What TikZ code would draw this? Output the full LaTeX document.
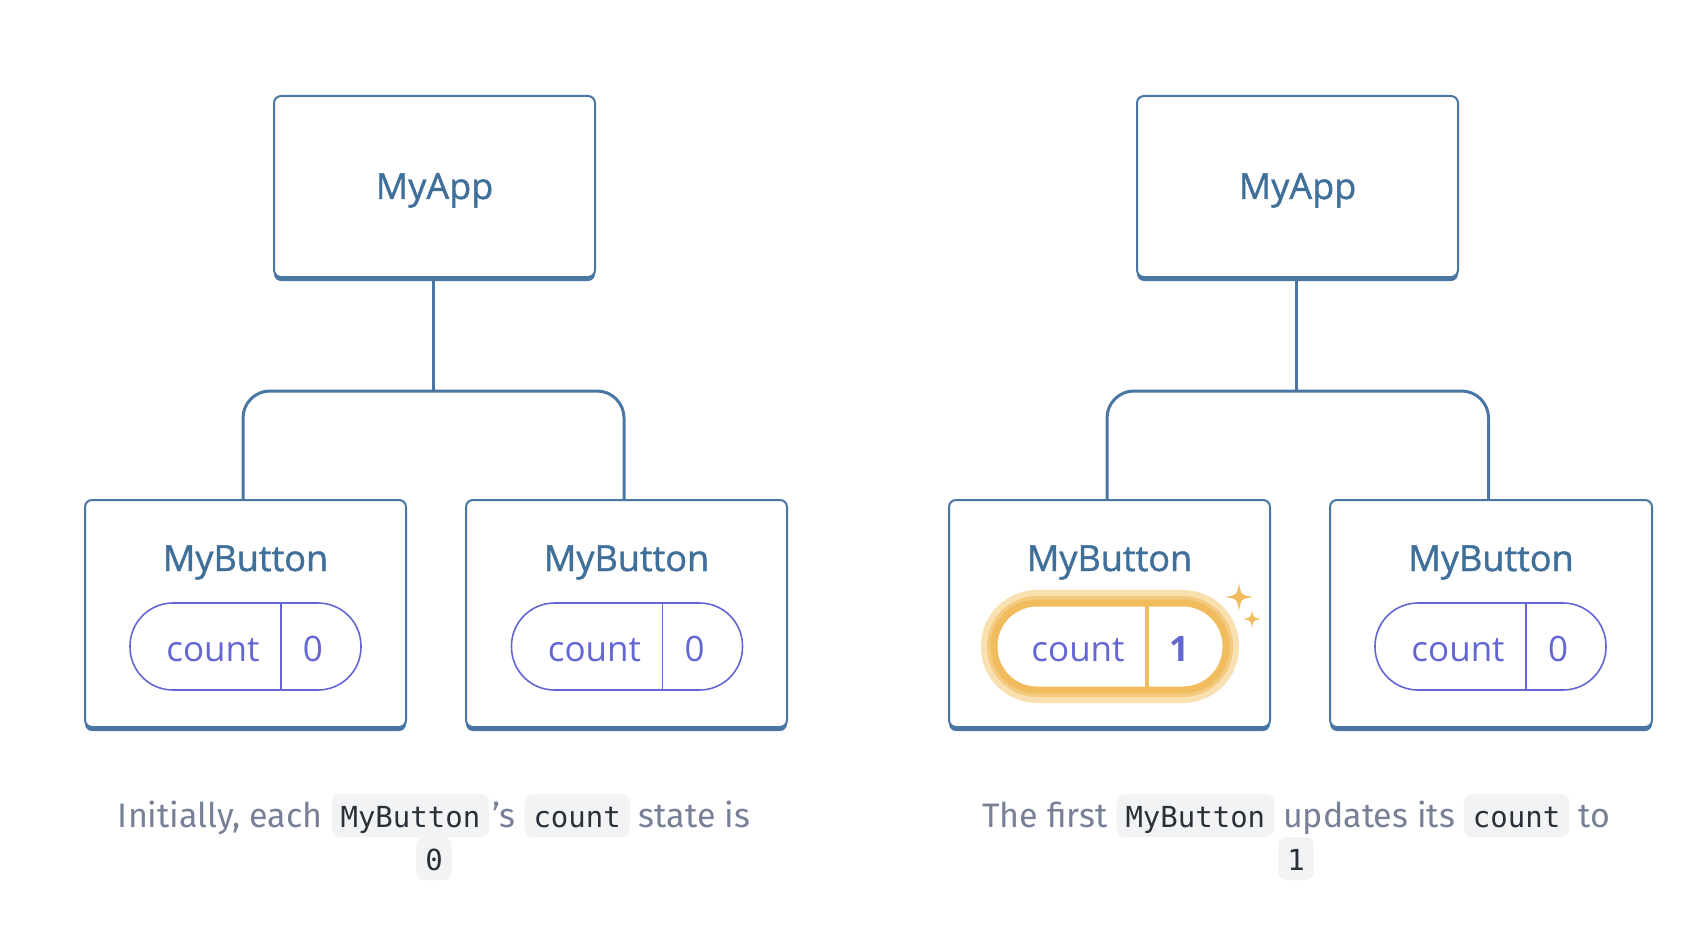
\documentclass[tikz,border=0pt]{standalone}
\usepackage{fontspec}
\setmainfont{Open Sans}
\newfontfamily\titlefont{Open Sans}[FakeBold=1.2]
\newfontfamily\capfont{Fira Sans}
\newfontfamily\codefont{DejaVu Sans Mono}
\usetikzlibrary{shadows}
\definecolor{boxcol}{HTML}{4A76A3}
\definecolor{titlecol}{HTML}{40709A}
\definecolor{purp}{HTML}{6466D4}
\definecolor{capcol}{HTML}{778097}
\definecolor{codebg}{HTML}{F2F3F5}
\definecolor{codetxt}{HTML}{2B2F38}
\definecolor{orng}{HTML}{F1BC5E}
\definecolor{glow}{HTML}{F8E0B0}
\tikzset{
  compbox/.style={draw=boxcol, line width=2pt, fill=white, rounded corners=7pt, inner sep=0pt,
    drop shadow={shadow xshift=0pt, shadow yshift=-4pt, fill=boxcol, opacity=1}},
  title/.style={text=titlecol, font=\titlefont\fontsize{36}{42}\selectfont, inner sep=0pt, anchor=base},
  conn/.style={draw=boxcol, line width=3pt},
  pill/.style={draw=purp, line width=1.6pt, fill=white, rounded corners=43pt,
    minimum width=231pt, minimum height=87pt, inner sep=0pt},
  hpill/.style={draw=orng, line width=7pt, fill=white, rounded corners=43pt,
    minimum width=232pt, minimum height=87pt, inner sep=0pt,
    preaction={draw=glow, line width=26pt}, preaction={draw=orng!60!glow, line width=14pt}},
  divider/.style={draw=purp, line width=1.6pt},
  pilltext/.style={text=purp, font=\fontsize{35}{40}\selectfont, inner sep=0pt, anchor=base},
  codebox/.style={fill=codebg, rounded corners=8pt, inner xsep=9pt, inner ysep=0pt,
    text height=33pt, text depth=10pt, text=codetxt, font=\codefont\fontsize{29}{34}\selectfont},
  caption/.style={text=capcol, font=\capfont\fontsize{34}{40}\selectfont, inner sep=0pt, anchor=base},
  spark/.style={fill=orng}
}
\newcommand{\inlinecode}[1]{\tikz[baseline=(cb.base)]\node[codebox](cb){#1};}
\begin{document}
\begin{tikzpicture}[x=1pt,y=-1pt]
\useasboundingbox (0,0) rectangle (1704,928);
% ---------- left tree ----------
\node[compbox, minimum width=321pt, minimum height=181pt] (app1) at (434.5,186.5) {};
\node[title] (app1t) at (434.5,199) {MyApp};
\node[compbox, minimum width=321pt, minimum height=227pt] (b1) at (245.5,613.5) {};
\node[compbox, minimum width=321pt, minimum height=227pt] (b2) at (626.5,613.5) {};
\node[title] (b1t) at (245.5,571) {MyButton};
\node[title] (b2t) at (626.5,571) {MyButton};
\coordinate (j1) at (433,391);
\draw[conn] ([xshift=-1.5pt]app1.south) -- (j1);
\draw[conn, rounded corners=27pt] ([xshift=-2.5pt]b1.north) |- (j1) -| ([xshift=-2.5pt]b2.north);
% pills
\node[pill] (p1) at (245.5,646.5) {};
\draw[divider] ([xshift=35.5pt]p1.north) -- ([xshift=35.5pt]p1.south);
\node[pilltext] (p1c) at (213,661) {count};
\node[pilltext] (p1v) at (313,661) {0};
\node[pill] (p2) at (627,646.5) {};
\draw[divider] ([xshift=35.5pt]p2.north) -- ([xshift=35.5pt]p2.south);
\node[pilltext] (p2c) at (594.5,661) {count};
\node[pilltext] (p2v) at (694.5,661) {0};
% ---------- right tree ----------
\node[compbox, minimum width=321pt, minimum height=181pt] (app2) at (1297.5,186.5) {};
\node[title] (app2t) at (1297.5,199) {MyApp};
\node[compbox, minimum width=321pt, minimum height=227pt] (b3) at (1109.5,613.5) {};
\node[compbox, minimum width=322pt, minimum height=227pt] (b4) at (1491,613.5) {};
\node[title] (b3t) at (1109.5,571) {MyButton};
\node[title] (b4t) at (1491,571) {MyButton};
\coordinate (j2) at (1296,391);
\draw[conn] ([xshift=-1.5pt]app2.south) -- (j2);
\draw[conn, rounded corners=27pt] ([xshift=-2.5pt]b3.north) |- (j2) -| ([xshift=-2.5pt]b4.north);
% highlighted pill
\node[hpill] (p3) at (1110,646.5) {};
\draw[draw=orng, line width=3.5pt] ([xshift=37pt,yshift=-1pt]p3.north) -- ([xshift=37pt,yshift=1pt]p3.south);
\node[pilltext] (p3c) at (1078,661) {count};
\node[pilltext, font=\fontsize{35}{40}\selectfont\bfseries] (p3v) at (1179,661) {1};
% sparkles
\begin{scope}[shift={(1239,597)}]
\fill[spark] (0,-14) .. controls (2,-2) .. (14,0) .. controls (2,2) .. (0,14) .. controls (-2,2) .. (-14,0) .. controls (-2,-2) .. (0,-14) -- cycle;
\end{scope}
\begin{scope}[shift={(1252,619)}]
\fill[spark] (0,-9) .. controls (1.3,-1.3) .. (9,0) .. controls (1.3,1.3) .. (0,9) .. controls (-1.3,1.3) .. (-9,0) .. controls (-1.3,-1.3) .. (0,-9) -- cycle;
\end{scope}
\node[pill] (p4) at (1490.5,646.5) {};
\draw[divider] ([xshift=35.5pt]p4.north) -- ([xshift=35.5pt]p4.south);
\node[pilltext] (p4c) at (1458,661) {count};
\node[pilltext] (p4v) at (1558,661) {0};
% ---------- captions ----------
\node[caption] (cap1a) at (434,827) {Initially, each \inlinecode{MyButton}\kern3pt’s \inlinecode{count} state is};
\node[caption] (cap1b) at (434,870) {\inlinecode{0}};
\node[caption] (cap2a) at (1296,827) {The first \inlinecode{MyButton} updates its \inlinecode{count} to};
\node[caption] (cap2b) at (1296,870) {\inlinecode{1}};
\end{tikzpicture}
\end{document}
